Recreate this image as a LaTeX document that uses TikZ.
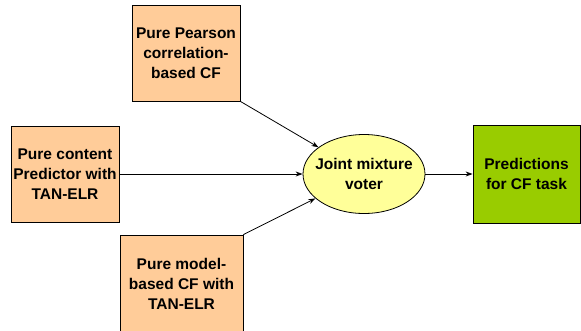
\documentclass[tikz,border=0pt]{standalone}
\usepackage{fontspec}
\setmainfont{Liberation Sans}
\usetikzlibrary{positioning, arrows.meta, shapes.geometric}

\definecolor{peach}{HTML}{FFCC99}
\definecolor{paleyellow}{HTML}{FFFF99}
\definecolor{leafgreen}{HTML}{99CC00}

\begin{document}
\begin{tikzpicture}[x=1pt, y=-1pt, black, line width=0.8pt,
    every node/.style={font=\fontsize{15.5}{20}\selectfont\bfseries, align=center},
    srcbox/.style={draw, rectangle, fill=peach, minimum width=108pt, minimum height=96pt, inner sep=0pt},
    link/.style={->, >={Stealth[length=7pt, width=5pt]}}]
  \useasboundingbox (0, 0) rectangle (581, 330);

  \node[srcbox] at (186, 53) (pearson) {Pure Pearson\\correlation-\\based CF};
  \node[srcbox] at (65, 174) (content) {Pure content\\Predictor with\\TAN-ELR};
  \node[srcbox, minimum width=123pt, minimum height=98pt] at (181.5, 284) (model) {Pure model-\\based CF with\\TAN-ELR};

  \node[draw, ellipse, fill=paleyellow, minimum width=122pt, minimum height=79pt, inner xsep=-12pt, inner ysep=0pt] at (364, 174) (voter) {Joint mixture\\voter};

  \node[srcbox, fill=leafgreen, minimum width=107pt, minimum height=98pt] at (526.5, 174) (predict) {Predictions\\for CF task};

  \draw[link] (pearson.south east) -- (voter);
  \draw[link] (content) -- (voter);
  \draw[link] (model.north east) -- (voter);
  \draw[link] (voter) -- (predict);

\end{tikzpicture}
\end{document}
